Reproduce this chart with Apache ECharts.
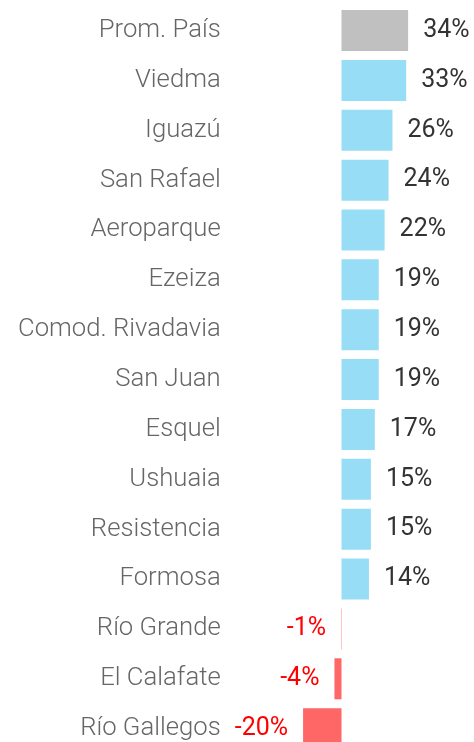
<!DOCTYPE html>
<html>
<head>
<meta charset="utf-8">
<script src="https://cdn.jsdelivr.net/npm/echarts@6/dist/echarts.min.js"></script>
<style>
  html, body { margin: 0; padding: 0; background: #fff; }
  #chart { width: 474px; height: 742px; }
</style>
</head>
<body>
<div id="chart"></div>
<script>
// datos
const categories = ["Prom. País", "Viedma", "Iguazú", "San Rafael", "Aeroparque", "Ezeiza",
  "Comod. Rivadavia", "San Juan", "Esquel", "Ushuaia", "Resistencia", "Formosa",
  "Río Grande", "El Calafate", "Río Gallegos"];
// valores estimados del largo de barra (Río Grande casi cero)
const values = [34, 33, 26, 24, 22, 19, 19, 19, 17, 15, 15, 14, -0.2, -3.6, -19.6];
// etiquetas mostradas
const valueLabels = ["34%", "33%", "26%", "24%", "22%", "19%", "19%", "19%", "17%", "15%",
  "15%", "14%", "-1%", "-4%", "-20%"];

const FONT = "Roboto";

let myChart = echarts.init(document.getElementById("chart"));

let barData = values.map(function (v, i) {
  let color = v < 0 ? "#ff6666" : (i === 0 ? "#c0c0c0" : "#97ddf5");
  return {
    value: v,
    itemStyle: { color: color },
    label: {
      position: v < 0 ? "left" : "right",
      color: v < 0 ? "#ff0000" : "#333333",
    },
  };
});

let option = {
  animation: false,
  grid: { left: 282.7, right: 54.1, top: 5.6, height: 748, outerBoundsMode: "none" },
  xAxis: {
    type: "value",
    min: -30,
    max: 40,
    show: false,
  },
  yAxis: {
    type: "category",
    inverse: true,
    data: categories,
    axisLine: { show: false, onZero: false },
    axisTick: { show: false },
    axisLabel: {
      margin: 62,
      fontFamily: FONT,
      fontWeight: 300,
      fontSize: 25.7,
      color: "#666666",
    },
  },
  series: [
    {
      type: "bar",
      barWidth: 41,
      data: barData,
      label: {
        show: true,
        distance: 15,
        fontFamily: FONT,
        fontSize: 25,
        fontWeight: 400,
        formatter: function (p) { return valueLabels[p.dataIndex]; },
      },
    },
  ],
};

myChart.setOption(option);
</script>
</body>
</html>
